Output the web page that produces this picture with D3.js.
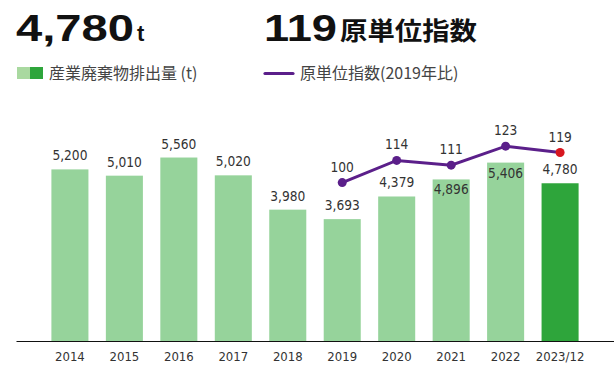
<!DOCTYPE html>
<html>
<head>
<meta charset="utf-8">
<script src="https://cdn.jsdelivr.net/npm/d3@7"></script>
<style>
  html, body { margin: 0; padding: 0; background: #fff; }
  svg { display: block; }
  .num { font-family: "DejaVu Sans", sans-serif; font-stretch: condensed; font-size: 13px; fill: #333; }
  .val { font-size: 13.6px; }
  .legend { font-family: "Noto Sans CJK JP", sans-serif; font-size: 16px; fill: #444; }
  .big { font-family: "Liberation Sans", Arial, sans-serif; font-weight: 700; fill: #111; }
  .bigjp { font-family: "Noto Sans CJK JP", sans-serif; font-weight: 700; fill: #111; }
</style>
</head>
<body>
<script>
// Fiscal years shown on the x axis
const years = ["2014", "2015", "2016", "2017", "2018", "2019", "2020", "2021", "2022", "2023/12"];
// Industrial waste output (t)
const waste = [5200, 5010, 5560, 5020, 3980, 3693, 4379, 4896, 5406, 4780];
// Intensity index (2019 = 100), only from 2019 onward
const indexYears = ["2019", "2020", "2021", "2022", "2023/12"];
const indexValues = [100, 114, 111, 123, 119];

const W = 614, H = 368;
const baseY = 341, topY = 143;

const svg = d3.select("body").append("svg").attr("width", W).attr("height", H);

const x = d3.scaleBand().domain(years).range([16, 614]).paddingInner(0.32).paddingOuter(0.65);
const y = d3.scaleLinear().domain([0, 6000]).range([baseY, topY]);
const yIdx = d3.scaleLinear().domain([0, 125]).range([baseY, topY]);

const fmt = d3.format(",");
const last = years[years.length - 1];

// Bars
svg.append("g").selectAll("rect").data(years).join("rect")
  .attr("x", d => x(d))
  .attr("width", x.bandwidth())
  .attr("y", (d, i) => y(waste[i]))
  .attr("height", (d, i) => baseY - y(waste[i]))
  .attr("fill", d => d === last ? "#2ea53b" : "#96d39b");

// Axis
const axis = svg.append("g").attr("transform", `translate(0,${baseY})`)
  .call(d3.axisBottom(x).tickSize(0).tickPadding(0));
axis.select(".domain").attr("stroke", "#111").attr("stroke-width", 1.2);
axis.selectAll("text").attr("class", "num").attr("y", 20).attr("dy", null).attr("fill", "#333");

// Line points
const idxLookup = new Map(indexYears.map((d, i) => [d, indexValues[i]]));
const pts = indexYears.map((d, i) => ({ year: d, v: indexValues[i], cx: x(d) + x.bandwidth() / 2, cy: yIdx(indexValues[i]) }));

// Bar value labels: move inside the bar when the label would sit on the line
svg.append("g").selectAll("text").data(years).join("text")
  .attr("class", "num val")
  .attr("text-anchor", "middle")
  .attr("x", d => x(d) + x.bandwidth() / 2)
  .attr("y", (d, i) => {
    const top = y(waste[i]);
    const above = top - 9;
    if (idxLookup.has(d)) {
      const ly = yIdx(idxLookup.get(d));
      if (Math.abs((above - 5) - ly) < 12) return top + 15;
    }
    return above;
  })
  .text((d, i) => fmt(waste[i]));

// Index line
svg.append("path")
  .datum(pts)
  .attr("fill", "none")
  .attr("stroke", "#5b1f8a")
  .attr("stroke-width", 3)
  .attr("d", d3.line().x(d => d.cx).y(d => d.cy));

svg.append("g").selectAll("circle").data(pts).join("circle")
  .attr("cx", d => d.cx).attr("cy", d => d.cy).attr("r", 4.5)
  .attr("fill", d => d.year === last ? "#d7161f" : "#5b1f8a");

svg.append("g").selectAll("text").data(pts).join("text")
  .attr("class", "num val")
  .attr("text-anchor", "middle")
  .attr("x", d => d.cx).attr("y", d => d.cy - 11)
  .text(d => d.v);

// Headline figures
const latestWaste = waste[waste.length - 1];
const latestIdx = indexValues[indexValues.length - 1];
svg.append("text").attr("class", "big").attr("x", 16).attr("y", 41)
  .attr("font-size", 37).attr("textLength", 118).attr("lengthAdjust", "spacingAndGlyphs")
  .text(fmt(latestWaste));
svg.append("text").attr("class", "big").attr("x", 137).attr("y", 41)
  .attr("font-size", 22).text("t");
svg.append("text").attr("class", "big").attr("x", 264).attr("y", 41)
  .attr("font-size", 37).attr("textLength", 73).attr("lengthAdjust", "spacingAndGlyphs")
  .text(latestIdx);
svg.append("text").attr("class", "bigjp").attr("x", 340).attr("y", 40)
  .attr("font-size", 25).attr("textLength", 137).attr("lengthAdjust", "spacingAndGlyphs")
  .text("原単位指数");

// Legend
svg.append("rect").attr("x", 17).attr("y", 67).attr("width", 13).attr("height", 12).attr("fill", "#a9d9a0");
svg.append("rect").attr("x", 30).attr("y", 67).attr("width", 13).attr("height", 12).attr("fill", "#2ea53b");
svg.append("text").attr("class", "legend").attr("x", 49).attr("y", 79).text("産業廃棄物排出量 (t)");

svg.append("line").attr("x1", 265).attr("x2", 293).attr("y1", 73.5).attr("y2", 73.5)
  .attr("stroke", "#5b1f8a").attr("stroke-width", 3.2).attr("stroke-linecap", "round");
svg.append("text").attr("class", "legend").attr("x", 300).attr("y", 79).text("原単位指数(2019年比)");
</script>
</body>
</html>
